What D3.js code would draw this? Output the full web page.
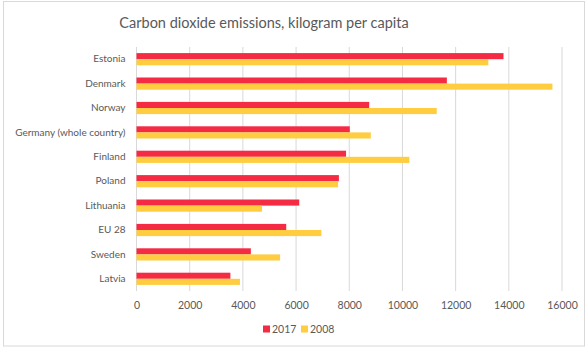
<!DOCTYPE html>
<html>
<head>
<meta charset="utf-8">
<script src="https://cdn.jsdelivr.net/npm/d3@7"></script>
<style>
  body { margin: 0; background: #fff; }
  text { font-family: Lato, "Open Sans", sans-serif; fill: #595959; }
</style>
</head>
<body>
<div id="chart"></div>
<script>
// values
const countries = ['Estonia', 'Denmark', 'Norway', 'Germany (whole country)', 'Finland',
                   'Poland', 'Lithuania', 'EU 28', 'Sweden', 'Latvia'];
const values2017 = [13800, 11670, 8750, 8020, 7880, 7610, 6120, 5630, 4300, 3530];
const values2008 = [13230, 15640, 11290, 8810, 10260, 7580, 4720, 6950, 5400, 3890];
const seriesNames = ['2017', '2008'];
const xTicks = [0, 2000, 4000, 6000, 8000, 10000, 12000, 14000, 16000];

const colors = ['#f52a43', '#ffcd3f'];

const W = 586, H = 347;
const margin = {top: 47, right: 24, bottom: 56, left: 136.5};
const width = W - margin.left - margin.right,
      height = H - margin.top - margin.bottom;

const rows = countries.map((c, i) => ({name: c, vals: [values2017[i], values2008[i]]}));

const svg = d3.select('#chart').append('svg')
    .attr('width', W)
    .attr('height', H);

// outer frame
svg.append('rect')
    .attr('x', 3.5).attr('y', 1.5)
    .attr('width', W - 5).attr('height', H - 2.5)
    .attr('fill', '#fff')
    .attr('stroke', '#d9d9d9');

svg.append('text')
    .attr('x', 264)
    .attr('y', 28)
    .attr('text-anchor', 'middle')
    .style('font-size', '14.5px')
    .text('Carbon dioxide emissions, kilogram per capita');

const g = svg.append('g')
    .attr('transform', `translate(${margin.left},${margin.top})`);

const x = d3.scaleLinear().domain([0, 16000]).range([0, width]);
const y = d3.scaleBand().domain(countries).range([0, height]).paddingInner(0.5).paddingOuter(0.25);
const ySub = d3.scaleBand().domain(seriesNames).range([0, y.bandwidth()]);

// gridlines
g.append('g')
    .selectAll('line')
    .data(xTicks)
    .join('line')
    .attr('x1', d => x(d)).attr('x2', d => x(d))
    .attr('y1', 0).attr('y2', height)
    .attr('stroke', '#d9d9d9')
    .attr('stroke-width', 1);

// bars
const groups = g.selectAll('.row')
    .data(rows)
    .join('g')
    .attr('class', 'row')
    .attr('transform', d => `translate(0,${y(d.name)})`);

groups.selectAll('rect')
    .data(d => d.vals.map((v, i) => ({key: seriesNames[i], v, i})))
    .join('rect')
    .attr('x', x(0))
    .attr('y', d => ySub(d.key))
    .attr('width', d => x(d.v) - x(0))
    .attr('height', ySub.bandwidth())
    .attr('fill', d => colors[d.i]);

// category axis
const yAxis = g.append('g')
    .call(d3.axisLeft(y).tickSize(0).tickPadding(11));
yAxis.select('.domain').remove();
yAxis.selectAll('text').style('font-size', '10px').attr('fill', '#595959');

// value axis
const xAxis = g.append('g')
    .attr('transform', `translate(0,${height})`)
    .call(d3.axisBottom(x).tickValues(xTicks).tickFormat(d3.format('d')).tickSize(0).tickPadding(11));
xAxis.select('.domain').remove();
xAxis.selectAll('text').style('font-size', '10.5px').attr('fill', '#595959');

// legend
const legend = svg.append('g')
    .attr('transform', 'translate(263,329)');
const items = legend.selectAll('g')
    .data(seriesNames)
    .join('g')
    .attr('transform', (d, i) => `translate(${i * 38},0)`);
items.append('rect')
    .attr('x', 0).attr('y', -3.5)
    .attr('width', 7).attr('height', 7)
    .attr('fill', (d, i) => colors[i]);
items.append('text')
    .attr('x', 9)
    .attr('dy', '0.35em')
    .style('font-size', '10.5px')
    .text(d => d);
</script>
</body>
</html>
